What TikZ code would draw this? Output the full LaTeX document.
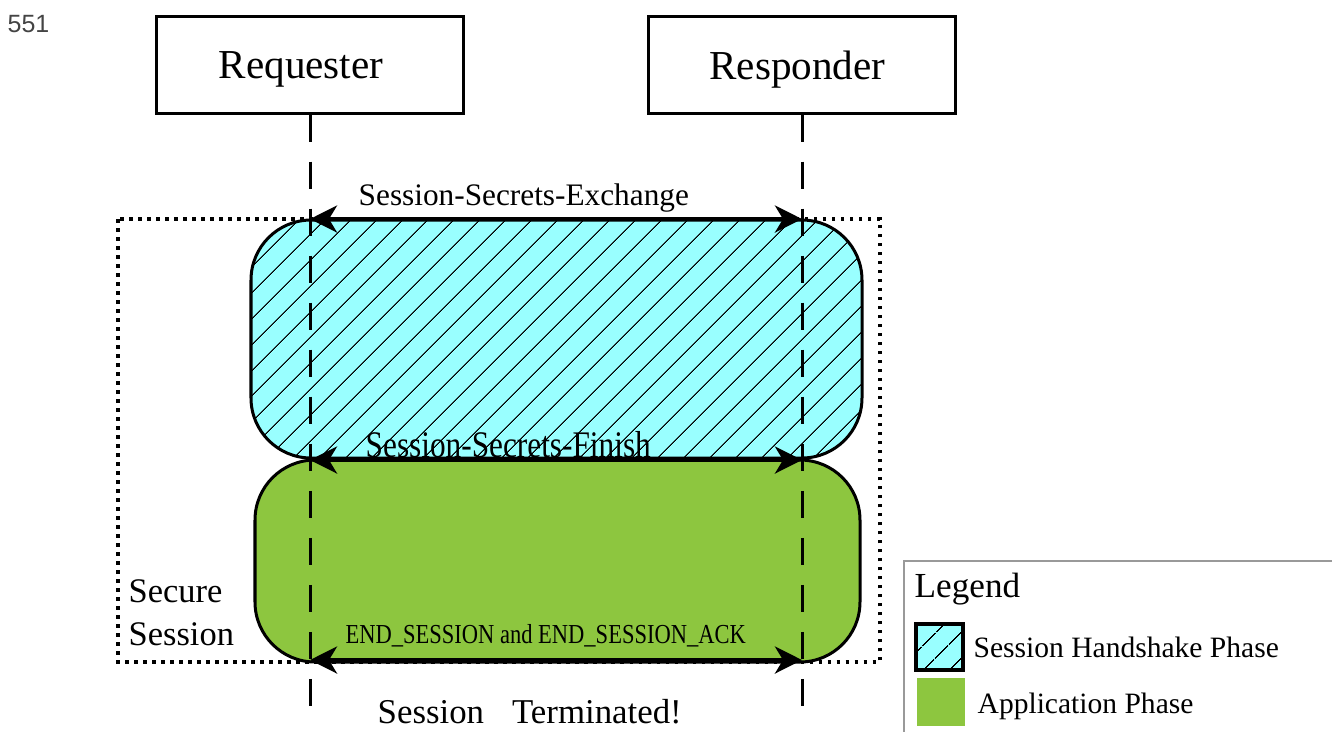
\documentclass[tikz,border=0pt]{standalone}
\usepackage{fontspec}
\setmainfont{Liberation Serif}
\newfontfamily\numfont{Liberation Sans}
\usepackage{graphicx}
\usetikzlibrary{arrows.meta,patterns.meta}
\definecolor{hscyan}{HTML}{99FFFF}
\definecolor{apgreen}{HTML}{8DC63F}
\definecolor{numgray}{HTML}{444444}
\begin{document}
\begin{tikzpicture}[x=0.01cm,y=-0.01cm,
  actor/.style={draw, line width=0.03cm, minimum width=3.07cm, minimum height=0.96cm, inner sep=0pt, text depth=0pt, font=\fontsize{11.7}{13}\selectfont},
  lifeline/.style={line width=0.03cm, dash pattern=on 0.27cm off 0.2cm},
  msg/.style={line width=0.04cm, {Stealth[length=0.27cm,width=0.27cm,inset=0.08cm]}-{Stealth[length=0.27cm,width=0.27cm,inset=0.08cm]}},
  phase/.style={line width=0.03cm, rounded corners=0.6cm},
  hatch/.style={pattern={Lines[angle=45,distance=5.4pt,line width=0.35pt]}, pattern color=black},
  dotbox/.style={line width=0.035cm, dash pattern=on 0.035cm off 0.055cm},
  lbl/.style={anchor=base west, inner sep=0pt},
]
\useasboundingbox (0,0) rectangle (1332,732);

% page number
\node[lbl, font=\numfont\fontsize{7.1}{8}\selectfont, text=numgray] (num) at (7,32) {551};

% secure session dotted box
\draw[dotbox] (118,219) rectangle (880,662);

% phases
\draw[phase, fill=apgreen] (255,460) rectangle (860,662);
\draw[phase, preaction={fill=hscyan}, hatch] (251,220) rectangle (862,458);

% actors
\node[actor] (req) at (310,65) {\hspace{-0.18cm}Requester};
\node[actor] (resp) at (802,65) {\hspace{-0.09cm}Responder};
\coordinate (reqEnd) at (310,712);
\coordinate (respEnd) at (802,712);
\draw[lifeline] (req.south) -- (reqEnd);
\draw[lifeline] (resp.south) -- (respEnd);

% messages
\coordinate (exL) at (310,219);
\coordinate (exR) at (802,219);
\coordinate (fiL) at (310,460);
\coordinate (fiR) at (802,460);
\coordinate (enL) at (310,660);
\coordinate (enR) at (802,660);
\draw[msg] (exL) -- (exR);
\draw[msg] (fiL) -- (fiR);
\draw[msg] (enL) -- (enR);

\node[lbl, font=\fontsize{8.9}{10}\selectfont] (exT) at (358,205) {Session-Secrets-Exchange};
\node[lbl, font=\fontsize{8.9}{10}\selectfont] (fiT) at (365,457) {\scalebox{1}[1.2]{Session-Secrets-Finish}};
\node[lbl, font=\fontsize{6.4}{8}\selectfont] (enT) at (345,643) {\scalebox{1}[1.22]{END\_SESSION and END\_SESSION\_ACK}};
\node[lbl, font=\fontsize{9.9}{11}\selectfont] (term) at (377,723) {Session\hspace{0.28cm}Terminated!};
\node[lbl, font=\fontsize{9.8}{11.95}\selectfont, align=left] (sec) at (128,645) {Secure\\Session};

% legend
\draw[gray!80, line width=0.015cm] (1332,561) -- (904,561) -- (904,732);
\node[lbl, font=\fontsize{10}{12}\selectfont] (legT) at (914,597) {Legend};
\draw[line width=0.04cm, preaction={fill=hscyan}, hatch] (916,624) rectangle (963,670);
\fill[apgreen] (917,678) rectangle (965,726);
\node[lbl, font=\fontsize{8.4}{10}\selectfont] (legA) at (973,657) {Session Handshake Phase};
\node[lbl, font=\fontsize{8.4}{10}\selectfont] (legB) at (977,713) {Application Phase};
\end{tikzpicture}
\end{document}
